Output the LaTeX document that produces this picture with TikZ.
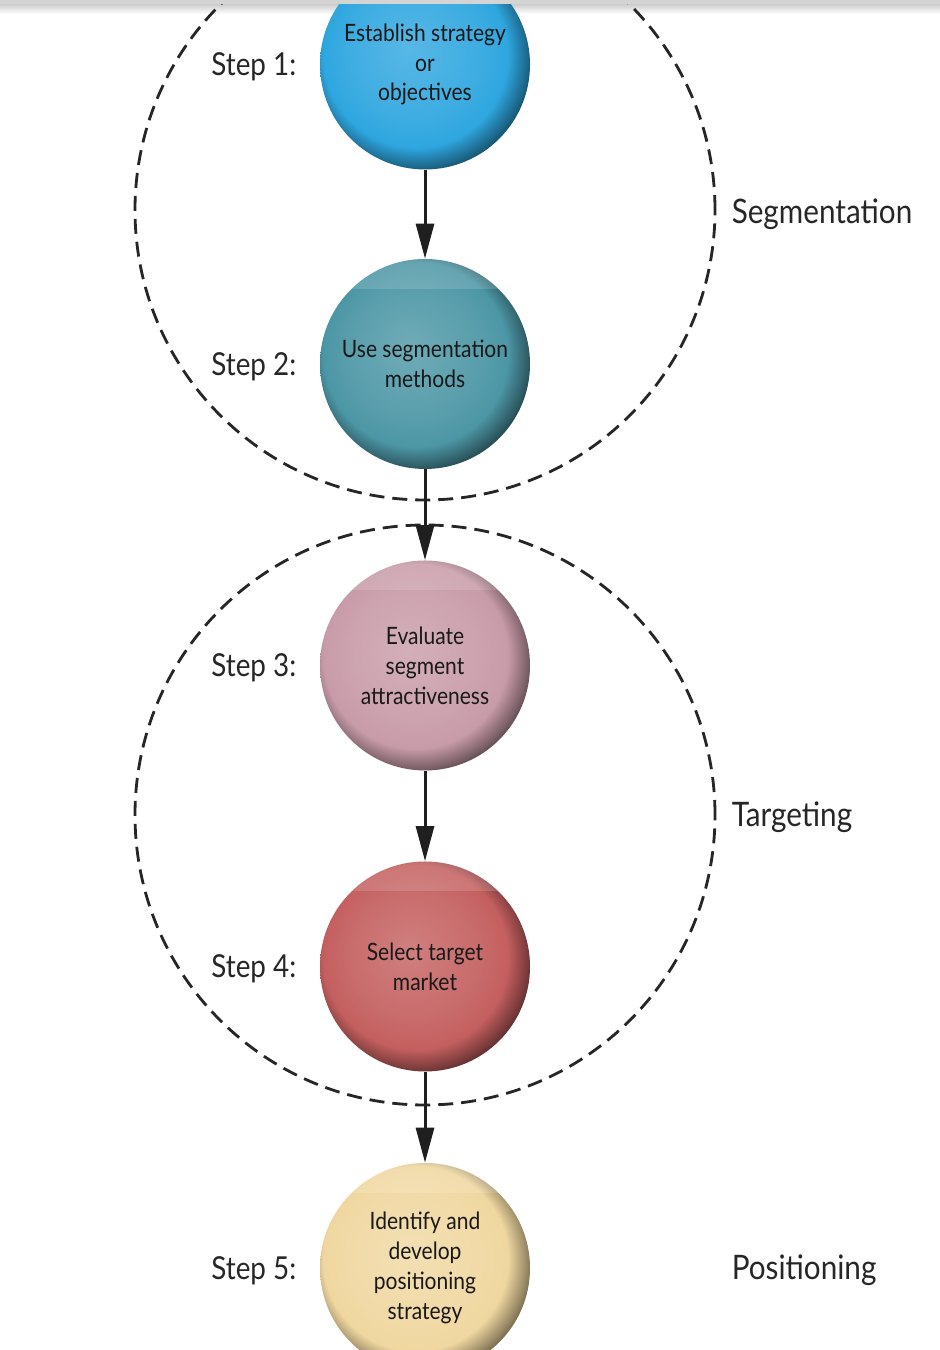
\documentclass[tikz,border=0pt]{standalone}
\usepackage{fontspec}
\setmainfont{Lato}[FakeStretch=0.88]
\usetikzlibrary{arrows.meta, positioning, calc}

\definecolor{stepblue}{HTML}{2EA6DF}
\definecolor{stepteal}{HTML}{4C96A5}
\definecolor{steppink}{HTML}{C89BA8}
\definecolor{stepred}{HTML}{C45F5F}
\definecolor{stepsand}{HTML}{F0D7A0}
\colorlet{stepcol}{stepblue}

% flat ball, dark rim at lower right
\pgfdeclareradialshading[stepcol]{stepshade}{\pgfpoint{-4bp}{4bp}}{%
  color(0bp)=(stepcol!80!white); color(16bp)=(stepcol!93!white);
  color(22bp)=(stepcol); color(26bp)=(stepcol!65!black);
  color(30bp)=(stepcol!25!black); color(50bp)=(stepcol!25!black)}

\begin{document}
\begin{tikzpicture}[
    stepball/.style={circle, minimum size=4.2cm, inner sep=0pt, align=center,
        shading=stepshade, text=black!90, font=\fontsize{13.6}{17}\selectfont},
    ballcol/.code={\colorlet{stepcol}{#1}},
    steplabel/.style={font=\fontsize{18}{20}\selectfont, text=black!85, inner sep=0pt},
    phase/.style={font=\fontsize{19.2}{22}\selectfont, text=black!85, inner sep=0pt},
    group/.style={circle, draw=black!85, line width=1.6pt,
        dash pattern=on 0.3cm off 0.16cm, minimum size=11.6cm, inner sep=0pt},
    flow/.style={line width=1.7pt, draw=black!88, -{Triangle[length=0.7cm, width=0.36cm]}}
]
    \useasboundingbox (0,0) rectangle (18.8,27);
    \clip (0,0) rectangle (18.8,27);
    \shade[top color=black!20, bottom color=white] (0,26.92) rectangle (18.8,26.72);

    % dashed groups
    \node[group] (seg) at (8.5,22.8) {};
    \node[group] (tgt) at (8.5,10.7) {};

    % steps
    \node[stepball, ballcol=stepblue] (s1) at (8.5,25.71) {Establish strategy\\or\\objectives};
    \node[stepball, ballcol=stepteal] (s2) at (8.5,19.72) {Use segmentation\\methods};
    \node[stepball, ballcol=steppink] (s3) at (8.5,13.69) {Evaluate\\segment\\attractiveness};
    \node[stepball, ballcol=stepred] (s4) at (8.5,7.67) {Select target\\market};
    \node[stepball, ballcol=stepsand] (s5) at (8.5,1.64) {Identify and\\develop\\positioning\\strategy};

    % light band on top of each ball
    \foreach \n in {1,...,5} {
        \begin{scope}
            \clip (s\n) circle (2.1);
            \fill[white, opacity=0.14] ($(s\n)+(-2.2,1.5)$) rectangle ($(s\n)+(2.2,2.2)$);
        \end{scope}
    }

    \foreach \n in {1,...,5} {
        \node[steplabel, left=0.46cm of s\n, yshift=-0.05cm] (l\n) {Step \n:};
    }

    % phases
    \node[phase, right=0.3cm of seg.east, yshift=-0.08cm] (pseg) {Segmentation};
    \node[phase, right=0.3cm of tgt.east, yshift=-0.04cm] (ptgt) {Targeting};
    \coordinate (pref) at (tgt.east |- s5);
    \node[phase, right=0.3cm of pref, yshift=-0.04cm] (ppos) {Positioning};

    \foreach \a/\b in {s1/s2, s2/s3, s3/s4, s4/s5} {
        \draw[flow] (\a) -- (\b);
    }

    \fill[black!17] (0,26.92) rectangle (18.8,27);
\end{tikzpicture}
\end{document}
